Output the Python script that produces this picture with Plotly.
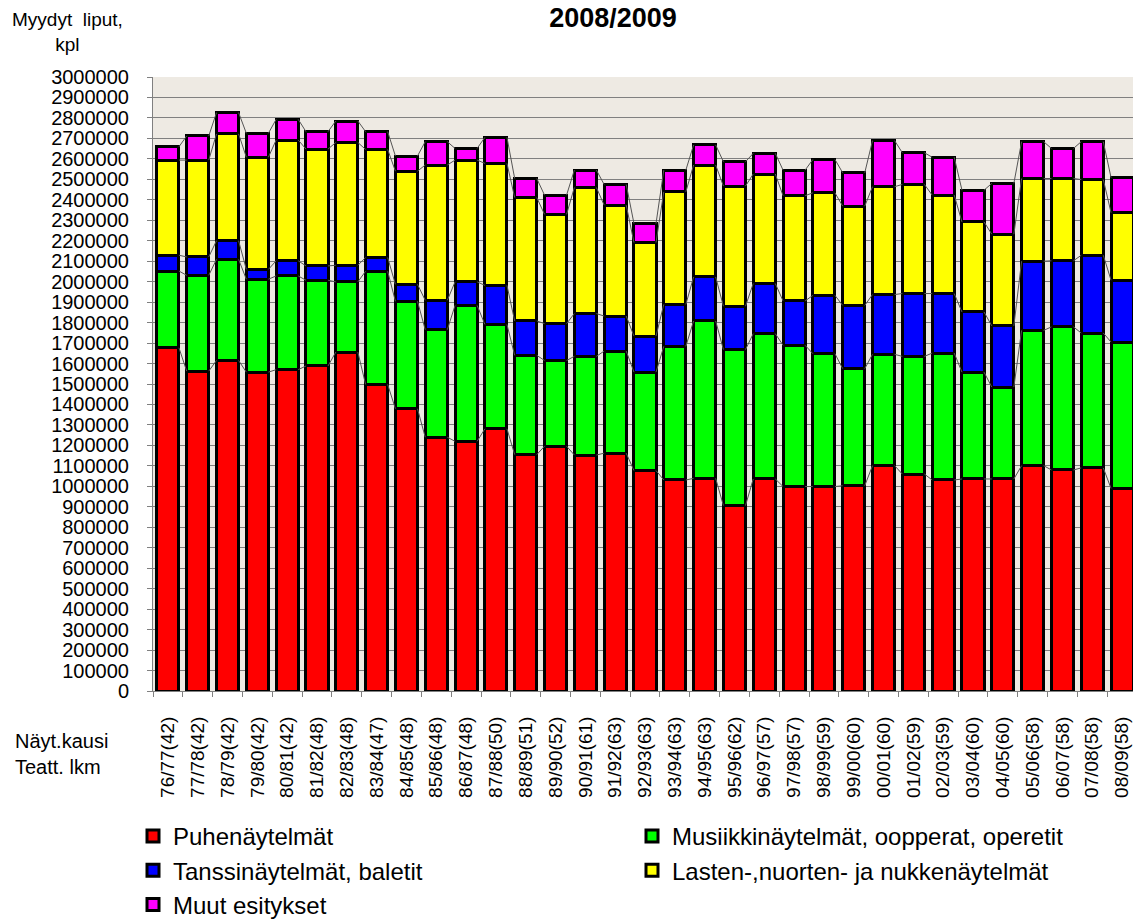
import plotly.graph_objects as go

categories = ["76/77(42)", "77/78(42)", "78/79(42)", "79/80(42)", "80/81(42)", "81/82(48)",
              "82/83(48)", "83/84(47)", "84/85(48)", "85/86(48)", "86/87(48)", "87/88(50)",
              "88/89(51)", "89/90(52)", "90/91(61)", "91/92(63)", "92/93(63)", "93/94(63)",
              "94/95(63)", "95/96(62)", "96/97(57)", "97/98(57)", "98/99(59)", "99/00(60)",
              "00/01(60)", "01/02(59)", "02/03(59)", "03/04(60)", "04/05(60)", "05/06(58)",
              "06/07(58)", "07/08(58)", "08/09(58)"]

puhe = [1677000, 1563000, 1615000, 1558000, 1570000, 1588000, 1656000, 1498000, 1379000, 1240000,
        1220000, 1281000, 1155000, 1196000, 1153000, 1162000, 1077000, 1031000, 1039000, 906000,
        1036000, 999000, 999000, 1003000, 1101000, 1060000, 1031000, 1036000, 1036000, 1101000,
        1080000, 1090000, 990000]
musiikki = [375000, 468000, 494000, 454000, 458000, 419000, 343000, 553000, 525000, 525000,
            664000, 510000, 485000, 419000, 482000, 499000, 481000, 653000, 769000, 762000,
            710000, 690000, 649000, 572000, 544000, 575000, 620000, 522000, 449000, 661000,
            699000, 659000, 715000]
tanssi = [77000, 90000, 91000, 48000, 74000, 70000, 81000, 67000, 83000, 144000,
          115000, 191000, 168000, 180000, 209000, 171000, 176000, 205000, 215000, 212000,
          245000, 217000, 285000, 309000, 292000, 307000, 291000, 294000, 299000, 338000,
          323000, 380000, 302000]
lasten = [465000, 473000, 522000, 548000, 590000, 571000, 600000, 528000, 553000, 661000,
          595000, 596000, 603000, 534000, 616000, 542000, 457000, 550000, 547000, 587000,
          535000, 514000, 501000, 485000, 527000, 533000, 481000, 440000, 448000, 404000,
          402000, 370000, 330000]
muut = [65000, 118000, 104000, 117000, 101000, 85000, 105000, 87000, 74000, 114000,
        57000, 127000, 93000, 94000, 85000, 101000, 93000, 106000, 98000, 119000,
        101000, 125000, 163000, 163000, 225000, 155000, 185000, 155000, 248000, 180000,
        147000, 185000, 171000]

series_names = ["Puhenäytelmät", "Musiikkinäytelmät, oopperat, operetit",
                "Tanssinäytelmät, baletit", "Lasten-,nuorten- ja nukkenäytelmät",
                "Muut esitykset"]
series_values = [puhe, musiikki, tanssi, lasten, muut]
colors = ["#FF0000", "#00FF00", "#0000FF", "#FFFF00", "#FF00FF"]
legend_ids = ["legend", "legend2", "legend", "legend2", "legend"]

FONT = "Liberation Sans, Arial, sans-serif"
n = len(categories)
xs = list(range(n))
BAR_W = 0.74

# page body has an 8px margin, so the figure is drawn 8px smaller and offset
W, H = 1133, 911
ML, MT, MR = 145, 69, 4
PW = W - ML - MR
PH = 614
MB = H - MT - PH

fig = go.Figure()

# series lines (connect segment tops between neighbouring bars)
cum = [0] * n
for vals in series_values:
    cum = [c + v for c, v in zip(cum, vals)]
    lx, ly = [], []
    for i in range(n - 1):
        lx += [i + BAR_W / 2, i + 1 - BAR_W / 2, None]
        ly += [cum[i], cum[i + 1], None]
    fig.add_trace(go.Scatter(x=lx, y=ly, mode="lines", line=dict(color="#555555", width=1),
                             showlegend=False, hoverinfo="skip"))

for name, vals, col, lg in zip(series_names, series_values, colors, legend_ids):
    fig.add_trace(go.Bar(x=xs, y=vals, name=name, width=BAR_W,
                         marker=dict(color=col, line=dict(color="black", width=3)),
                         legend=lg, legendgroup=name))

fig.update_layout(
    width=W, height=H,
    barmode="stack",
    paper_bgcolor="white",
    plot_bgcolor="#EEEAE3",
    margin=dict(l=ML, r=MR, t=MT, b=MB, autoexpand=False),
    font=dict(family=FONT, color="black"),
    title=dict(text="<b>2008/2009</b>", x=605 / W, xanchor="center", y=1 - 10 / H,
               yanchor="middle", font=dict(size=27, family=FONT)),
    legend=dict(xref="container", yref="container", x=125 / W, y=1 - 806 / H,
                xanchor="left", yanchor="top", font=dict(size=24), tracegroupgap=5,
                bgcolor="rgba(0,0,0,0)", traceorder="normal"),
    legend2=dict(xref="container", yref="container", x=624 / W, y=1 - 806 / H,
                 xanchor="left", yanchor="top", font=dict(size=24), tracegroupgap=5,
                 bgcolor="rgba(0,0,0,0)", traceorder="normal"),
    showlegend=True,
)

fig.update_xaxes(
    range=[-0.5, n - 0.5], tickmode="array", tickvals=xs, ticktext=categories,
    tickangle=-90, tickfont=dict(size=19), ticks="", showgrid=False, zeroline=False,
    showline=True, linecolor="#808080", linewidth=1, ticklabelstandoff=17,
    minor=dict(tickmode="array", tickvals=[i - 0.5 for i in range(n + 1)], ticks="outside",
               ticklen=5, tickcolor="#808080", showgrid=False),
)
fig.update_yaxes(
    range=[0, 3000000], dtick=100000, tickformat="d", tickfont=dict(size=20),
    ticks="outside", ticklen=5, tickcolor="#808080", showgrid=True, gridcolor="#808080",
    gridwidth=1, zeroline=False, showline=True, linecolor="#808080", linewidth=1,
    ticklabelstandoff=14,
)

fig.add_annotation(text="Myydyt  liput,<br>kpl", xref="paper", yref="paper",
                   x=(59 - ML) / PW, y=1 + 45 / PH, xanchor="center", yanchor="middle",
                   showarrow=False, font=dict(size=19), align="center")
fig.add_annotation(text="Näyt.kausi<br>Teatt. lkm", xref="paper", yref="paper",
                   x=(5 - ML) / PW, y=-63 / PH, xanchor="left", yanchor="middle",
                   showarrow=False, font=dict(size=20), align="left")

fig.write_html("out.html")
